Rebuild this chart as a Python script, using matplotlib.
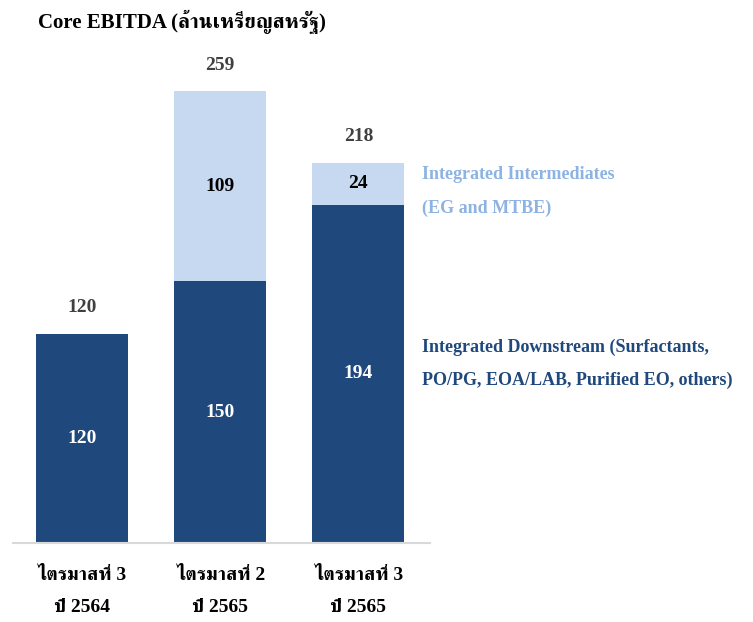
import matplotlib
matplotlib.use("Agg")
import matplotlib.pyplot as plt

plt.rcParams["font.family"] = ["Liberation Serif", "FreeSerif"]
plt.rcParams["font.weight"] = "bold"

categories = ["ไตรมาสที่ 3\nปี 2564", "ไตรมาสที่ 2\nปี 2565", "ไตรมาสที่ 3\nปี 2565"]
downstream = [120, 150, 194]
intermediates = [0, 109, 24]
totals = [120, 259, 218]

dark = "#1F497D"
light = "#C6D9F1"

fig = plt.figure(figsize=(7.53, 6.22), dpi=100)
ax = fig.add_axes([0.0173, 0.127, 0.554, 0.841])

x = range(len(categories))
ax.bar(x, downstream, width=0.667, color=dark)
ax.bar(x, intermediates, width=0.667, bottom=downstream, color=light)

for i in x:
    ax.text(i, downstream[i] / 2, str(downstream[i]), ha="center", va="center",
            color="white", fontsize=14)
    if intermediates[i]:
        ax.text(i, downstream[i] + intermediates[i] / 2, str(intermediates[i]),
                ha="center", va="center", color="black", fontsize=14)
    ax.annotate(str(totals[i]), (i, totals[i]), xytext=(0, 19), textcoords="offset points",
                ha="center", va="center", color="#404040", fontsize=14)

# series names written next to the last bar
last = len(categories) - 1
ax.text(last + 0.46, totals[last] - 2, "Integrated Intermediates\n(EG and MTBE)",
        ha="left", va="top", color="#8DB3E2", fontsize=13, linespacing=2.2,
        clip_on=False)
ax.text(last + 0.46, downstream[last] * 0.53, "Integrated Downstream (Surfactants,\nPO/PG, EOA/LAB, Purified EO, others)",
        ha="left", va="center", color=dark, fontsize=13, linespacing=2.2,
        clip_on=False)

ax.set_xlim(-0.5, 2.52)
ax.set_ylim(0, 300)
ax.set_xticks(list(x))
ax.set_xticklabels(categories, fontsize=14, linespacing=2.15)
ax.tick_params(axis="x", length=0, pad=17)
ax.set_yticks([])
for side in ["left", "right", "top"]:
    ax.spines[side].set_visible(False)
ax.spines["bottom"].set_color("#D9D9D9")
ax.spines["bottom"].set_linewidth(1.5)

fig.text(38 / 753, 1 - 22 / 622, "Core EBITDA (ล้านเหรียญสหรัฐ)", ha="left", va="center",
         fontsize=15, color="black")

fig.savefig("out.png")
